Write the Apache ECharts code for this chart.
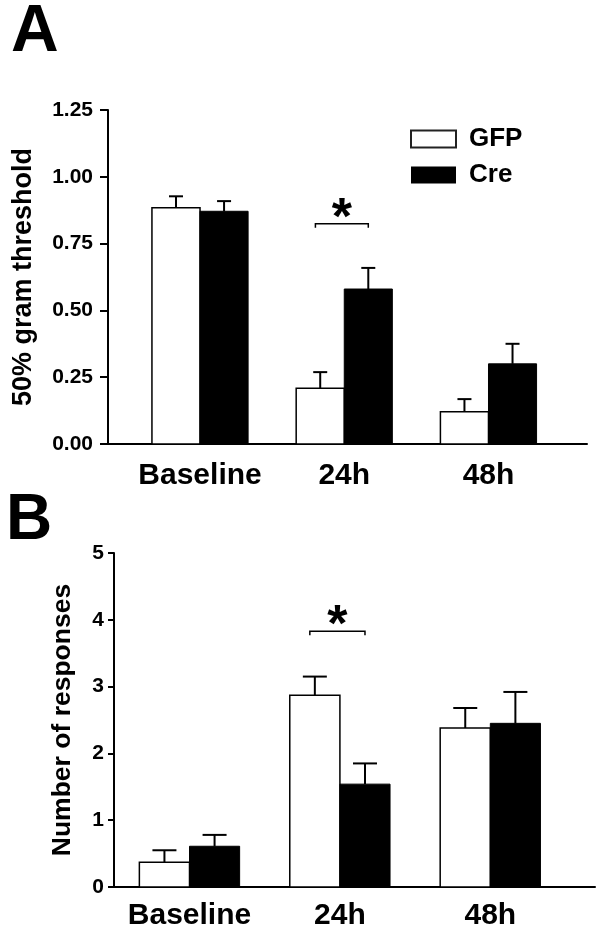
<!DOCTYPE html>
<html>
<head>
<meta charset="utf-8">
<script src="https://cdn.jsdelivr.net/npm/echarts@6/dist/echarts.min.js"></script>
<style>html,body{margin:0;padding:0;background:#fff}#c{width:602px;height:939px}</style>
</head>
<body>
<div id="c"></div>
<script>
// ---- data ----
const categories = ['Baseline', '24h', '48h'];
const seriesNames = ['GFP', 'Cre'];
// Panel A: 50% gram threshold
const gfpA = [0.884, 0.209, 0.121];
const gfpAErr = [0.043, 0.060, 0.047];
const creA = [0.871, 0.580, 0.300];
const creAErr = [0.038, 0.079, 0.075];
const yTicksA = [0, 0.25, 0.5, 0.75, 1.0, 1.25];
const yTickLabelsA = ['0.00', '0.25', '0.50', '0.75', '1.00', '1.25'];
const sigA = [[1, 0.824]];
// Panel B: number of responses
const gfpB = [0.37, 2.87, 2.38];
const gfpBErr = [0.18, 0.28, 0.30];
const creB = [0.61, 1.54, 2.45];
const creBErr = [0.17, 0.31, 0.47];
const yTicksB = [0, 1, 2, 3, 4, 5];
const yTickLabelsB = ['0', '1', '2', '3', '4', '5'];
const sigB = [[1, 3.83]];

const F = '"Liberation Sans", Arial, Helvetica, sans-serif';

function rows(vals, errs) { return categories.map((c, i) => [i, vals[i], errs[i]]); }

function barRenderer(slot, capHalf, isWhite) {
  return function (params, api) {
    const i = api.value(0), v = api.value(1), e = api.value(2);
    const xl = i + (slot - 1) / 3, xr = i + slot / 3, xc = (xl + xr) / 2;
    const p0 = api.coord([xl, 0]);
    const p1 = api.coord([xr, v]);
    const pc = api.coord([xc, v]);
    const pt = api.coord([xc, v + e]);
    const children = [];
    children.push({
      type: 'rect',
      shape: { x: p0[0], y: p1[1], width: p1[0] - p0[0], height: p0[1] - p1[1] },
      style: isWhite ? { fill: '#fff', stroke: '#000', lineWidth: 1.5 } : { fill: '#000', stroke: '#000', lineWidth: 1 }
    });
    children.push({ type: 'line', shape: { x1: pc[0], y1: pc[1], x2: pt[0], y2: pt[1] }, style: { stroke: '#000', lineWidth: 2 } });
    children.push({ type: 'line', shape: { x1: pt[0] - capHalf, y1: pt[1], x2: pt[0] + capHalf, y2: pt[1] }, style: { stroke: '#000', lineWidth: 2 } });
    return { type: 'group', children: children };
  };
}

function sigRenderer(params, api) {
  const i = api.value(0), y = api.value(1);
  const l = api.coord([i - 0.2, y]);
  const r = api.coord([i + 1 / 6, y]);
  return {
    type: 'group',
    children: [
      { type: 'polyline', shape: { points: [[l[0], l[1] + 4], [l[0], l[1]], [r[0], r[1]], [r[0], r[1] + 4]] }, style: { stroke: '#000', lineWidth: 1.5, fill: null } },
      { type: 'text', x: (l[0] + r[0]) / 2, y: l[1] - 4, style: { text: '*', fontSize: 52, fontWeight: 'bold', fontFamily: F, fill: '#000', align: 'center', verticalAlign: 'middle' } }
    ]
  };
}

function xAxisCfg(gi, min, max, margin) {
  return {
    gridIndex: gi, type: 'value', min: min, max: max,
    axisLine: { onZero: false, lineStyle: { color: '#000', width: 2 } },
    axisTick: { show: false },
    splitLine: { show: false },
    axisLabel: {
      customValues: [0, 1, 2],
      formatter: v => categories[Math.round(v)] || '',
      margin: margin, fontSize: 30, fontWeight: 'bold', fontFamily: F, color: '#000'
    }
  };
}
function yAxisCfg(gi, max, interval, ticks, labels, name, nameGap, tickLen, margin, nameSize) {
  return {
    gridIndex: gi, type: 'value', min: 0, max: max, interval: interval,
    axisLine: { show: true, onZero: false, lineStyle: { color: '#000', width: 2 } },
    axisTick: { show: true, length: tickLen, customValues: ticks, lineStyle: { color: '#000', width: 2 } },
    splitLine: { show: false },
    axisLabel: {
      customValues: ticks,
      formatter: v => labels[ticks.indexOf(v)] !== undefined ? labels[ticks.indexOf(v)] : '',
      margin: margin, fontSize: 21, fontWeight: 'bold', fontFamily: F, color: '#000'
    },
    name: name, nameLocation: 'middle', nameGap: nameGap,
    nameTextStyle: { fontSize: nameSize, fontWeight: 'bold', fontFamily: F, color: '#000' }
  };
}

const chart = echarts.init(document.getElementById('c'), null, { renderer: 'canvas' });
chart.setOption({
  animation: false,
  backgroundColor: '#fff',
  title: [
    { text: 'A', left: 11, top: 0, padding: 0, textStyle: { fontSize: 66, fontWeight: 'bold', fontFamily: F, color: '#000' } },
    { text: 'B', left: 6, top: 489, padding: 0, textStyle: { fontSize: 64, fontWeight: 'bold', fontFamily: F, color: '#000' } }
  ],
  legend: {
    orient: 'vertical', left: 410, top: 126, padding: 0,
    itemWidth: 45, itemHeight: 17, itemGap: 10, selectedMode: false,
    textStyle: { fontSize: 26, fontWeight: 'bold', fontFamily: F, color: '#000', padding: [0, 0, 0, 8] },
    data: [
      { name: 'GFP', icon: 'rect', itemStyle: { color: '#fff', borderColor: '#222', borderWidth: 2 } },
      { name: 'Cre', icon: 'rect', itemStyle: { color: '#000', borderColor: '#000', borderWidth: 0 } }
    ]
  },
  grid: [
    { left: 108, right: 15, top: 110, bottom: 495 },
    { left: 114, right: 7, top: 553, bottom: 52 }
  ],
  xAxis: [
    xAxisCfg(0, -0.638, 2.683, 17),
    xAxisCfg(1, -0.502, 2.696, 14)
  ],
  yAxis: [
    yAxisCfg(0, 1.25, 0.25, yTicksA, yTickLabelsA, '50% gram threshold', 71, 8, 15, 27),
    yAxisCfg(1, 5, 1, yTicksB, yTickLabelsB, 'Number of responses', 38, 6, 10, 26.5)
  ],
  series: [
    { name: seriesNames[0], type: 'custom', xAxisIndex: 0, yAxisIndex: 0, itemStyle: { color: '#fff' }, renderItem: barRenderer(0, 7, true), data: rows(gfpA, gfpAErr) },
    { name: seriesNames[1], type: 'custom', xAxisIndex: 0, yAxisIndex: 0, itemStyle: { color: '#000' }, renderItem: barRenderer(1, 7, false), data: rows(creA, creAErr) },
    { name: 'sigA', type: 'custom', xAxisIndex: 0, yAxisIndex: 0, renderItem: sigRenderer, data: sigA },
    { name: seriesNames[0], type: 'custom', xAxisIndex: 1, yAxisIndex: 1, itemStyle: { color: '#fff' }, renderItem: barRenderer(0, 12, true), data: rows(gfpB, gfpBErr) },
    { name: seriesNames[1], type: 'custom', xAxisIndex: 1, yAxisIndex: 1, itemStyle: { color: '#000' }, renderItem: barRenderer(1, 12, false), data: rows(creB, creBErr) },
    { name: 'sigB', type: 'custom', xAxisIndex: 1, yAxisIndex: 1, renderItem: sigRenderer, data: sigB }
  ]
});
</script>
</body>
</html>
